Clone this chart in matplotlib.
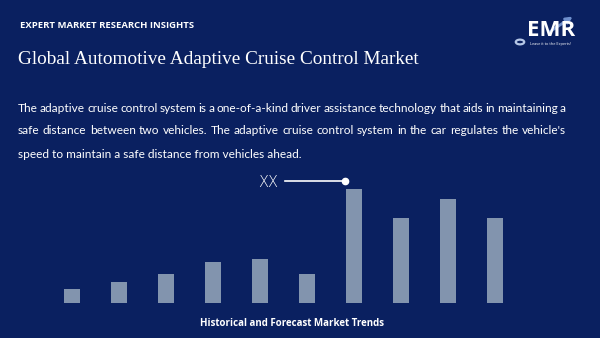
import matplotlib.pyplot as plt
from matplotlib.patches import Circle, FancyArrowPatch

# bar heights (arbitrary units)
years = list(range(10))
values = [14, 21, 29, 41, 44, 29, 114, 85, 104, 85]

header = 'EXPERT MARKET RESEARCH INSIGHTS'
title = 'Global Automotive Adaptive Cruise Control Market'
body = ["The adaptive cruise control system is a one-of-a-kind driver assistance technology that aids in maintaining a",
        "safe distance between two vehicles. The adaptive cruise control system in the car regulates the vehicle's",
        "speed to maintain a safe distance from vehicles ahead."]
xlabel = 'Historical and Forecast Market Trends'

bg = '#0a2060'
bar_col = '#8294ae'
W, H = 600, 338
body_fs = 8.6

fig = plt.figure(figsize=(6, 3.38), dpi=100, facecolor=bg)

def fx(px):
    return px / W

def fy(py):
    return 1 - py / H

# header texts
fig.text(fx(20), fy(26), header, color='white', fontsize=6.8, fontweight='bold',
         family='Open Sans', va='center', ha='left')
fig.text(fx(18), fy(59), title, color='white', fontsize=13.9, family='Liberation Serif',
         va='center', ha='left')

# body paragraph, justified by hand except the last line
fig.canvas.draw()
r = fig.canvas.get_renderer()
x0, x1 = 18, 566
for i, line in enumerate(body):
    y = fy(108 + 23 * i)
    if i == len(body) - 1:
        fig.text(fx(x0), y, line, color='white', fontsize=body_fs, family='Lato', va='center')
        continue
    words = line.split(' ')
    widths = []
    for w in words:
        t = fig.text(0, 0, w, fontsize=body_fs, family='Lato')
        widths.append(t.get_window_extent(r).width)
        t.remove()
    gap = (x1 - x0 - sum(widths)) / (len(words) - 1)
    x = x0
    for w, wd in zip(words, widths):
        fig.text(fx(x), y, w, color='white', fontsize=body_fs, family='Lato', va='center')
        x += wd + gap

# bars
ax = fig.add_axes([fx(40), fy(303.3), fx(480), (303.3 - 170) / H])
ax.set_facecolor(bg)
ax.bar(years, values, width=0.36, color=bar_col)
ax.set_xlim((40 - 72) / 47, (520 - 72) / 47)
ax.set_ylim(0, 133.3)
ax.axis('off')

# XX callout
ax.plot([(285 - 72) / 47, (345 - 72) / 47], [122.3, 122.3], color='white', lw=1.2, clip_on=False)
ax.plot([(345 - 72) / 47], [122.3], 'o', color='white', ms=4.5, clip_on=False)
ax.text((268 - 72) / 47, 121, 'XX', color='white', fontsize=10.5, ha='center', va='center',
        family='DejaVu Sans', fontweight='light')

fig.text(fx(292), fy(324), xlabel, color='white', fontsize=7.0, fontweight='bold',
         family='Open Sans', ha='center', va='center')

# logo
fig.patches.append(FancyArrowPatch((fx(548), fy(33)), (fx(575), fy(15)), transform=fig.transFigure,
                                   arrowstyle='-|>', mutation_scale=9, color='#6f8fcc', lw=2))
fig.text(fx(551), fy(31), 'EMR', color='white', fontsize=16, fontweight='bold',
         family='Open Sans', ha='center', va='center')
fig.text(fx(551), fy(44.5), 'Leave it to the Experts!', color='white', fontsize=2.8,
         family='Open Sans', ha='center', va='center')
fig.patches.append(Circle((fx(520), fy(42)), 0.007, transform=fig.transFigure,
                          fill=False, ec='#b5c6e6', lw=1.6))

fig.savefig('out.png', dpi=100, facecolor=bg)
